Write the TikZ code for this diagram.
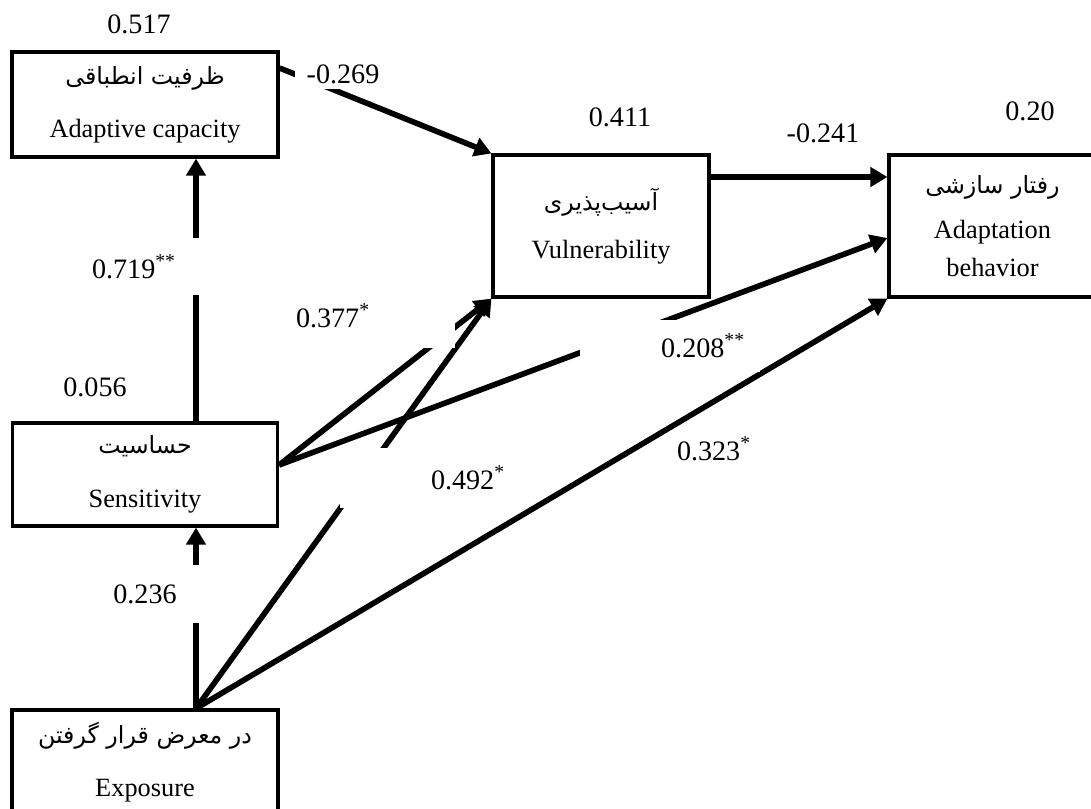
\documentclass[tikz,border=0pt]{standalone}
\usepackage{fontspec}
\setmainfont{Liberation Serif}
\newfontfamily\fa[Script=Arabic]{DejaVu Sans}
\TeXXeTstate=1
\usetikzlibrary{arrows.meta}

\newcommand{\fat}[1]{{\fa\fontsize{13.5}{15}\selectfont\beginR #1\endR}}

\begin{document}
\begin{tikzpicture}[x=0.02cm, y=-0.02cm,
  box/.style={draw, line width=1.8pt, align=center, inner sep=0pt,
              font=\fontsize{15}{18}\selectfont},
  arr/.style={-{Triangle[length=3.4mm,width=3.8mm]}, line width=3.2pt},
  lbl/.style={fill=white, inner sep=0pt, font=\fontsize{16}{19}\selectfont}
]
  \useasboundingbox (0,0) rectangle (1091,808);

  \node[box, minimum width=5.32cm, minimum height=2.1cm] (adc) at (145,104.5)
    {\fat{ظرفیت انطباقی}\\[12pt] Adaptive capacity};
  \node[box, minimum width=4.32cm, minimum height=2.84cm] (vul) at (601,226)
    {\fat{آسیب^^^^200cپذیری}\\[9pt] Vulnerability};
  \node[box, minimum width=4.14cm, minimum height=2.84cm] (adb) at (992.5,226)
    {\fat{رفتار سازشی}\\[8pt] Adaptation\\[3.6pt] behavior};
  \node[box, minimum width=5.3cm, minimum height=2.06cm] (sen) at (145,474.5)
    {\fat{حساسیت}\\[13pt] Sensitivity};
  \node[box, minimum width=5.32cm, minimum height=2.08cm] (exp) at (145,762)
    {\fat{در معرض قرار گرفتن}\\[12pt] Exposure};

  \draw[arr] ([xshift=1.02cm]sen.north) -- ([xshift=1.02cm]adc.south);
  \draw[arr] ([xshift=1.02cm]exp.north) -- ([xshift=1.02cm]sen.south);
  \draw[arr] ([yshift=0.73cm]adc.east) -- (vul.north west);
  \draw[arr] ([yshift=0.98cm]vul.east) -- ([yshift=0.98cm]adb.west);
  \draw[arr] ([yshift=0.19cm]sen.east) -- (vul.south west);
  \draw[arr] ([yshift=0.19cm]sen.east) -- ([yshift=-0.24cm]adb.west);
  \draw[arr] ([xshift=1.02cm]exp.north) -- (vul.south west);
  \draw[arr] ([xshift=1.02cm]exp.north) -- (adb.south west);

  \node[lbl] (r517) at (139,24) {0.517};
  \node[lbl] (r411) at (620,117) {0.411};
  \node[lbl] (r020) at (1030,111) {0.20};
  \node[lbl] (r056) at (95,387) {0.056};
  \node[lbl] (l241) at (823,133) {-0.241};
  \node[lbl, minimum width=1.92cm, minimum height=0.6cm] (l269) at (343,74) {-0.269};
  \node[lbl, minimum width=2.84cm, minimum height=1.14cm] (l719) at (134,266.5) {0.719\textsuperscript{**}};
  \node[lbl, minimum width=2.4cm, minimum height=1.16cm] (l236) at (145,594) {0.236};
  \node[lbl, minimum width=4.88cm, minimum height=1.28cm] (l377) at (333,316) {0.377\textsuperscript{*}};
  \node[lbl, text width=3.2cm, align=right, inner xsep=0.1cm, minimum height=1.2cm] (l492) at (425,478) {0.492\textsuperscript{*}};
  \node[lbl, text width=3.0cm, align=right, inner xsep=0.3cm, minimum height=1.04cm] (l208) at (670,346) {0.208\textsuperscript{**}};
  \node[lbl, minimum width=2cm, minimum height=0.6cm] (l323) at (714,449) {0.323\textsuperscript{*}};
\end{tikzpicture}
\end{document}
